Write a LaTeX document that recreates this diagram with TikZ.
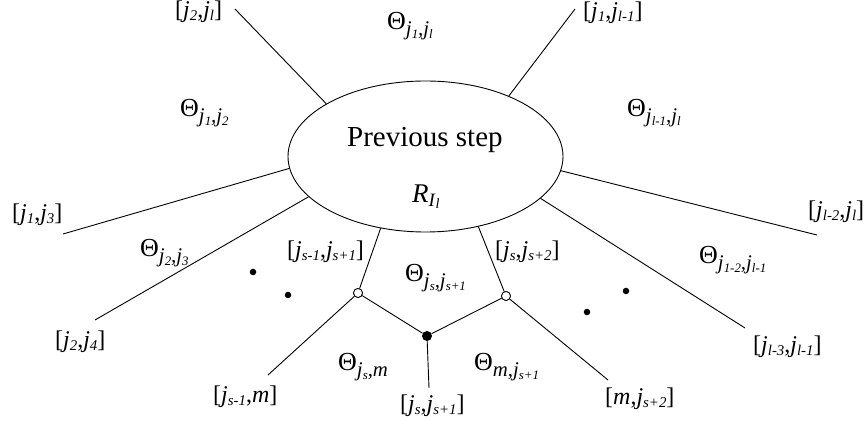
\documentclass[tikz,border=0pt]{standalone}
\usepackage{fontspec}
\usepackage{graphicx}
\setmainfont{Liberation Serif}
\usetikzlibrary{shapes.geometric}
\newcommand\sj[1]{\textit{j}\raisebox{-0.12em}{\scalebox{0.62}{\textit{#1}}}}
\newcommand\Th[1]{Θ\raisebox{-0.22em}{\scalebox{0.8}{\textit{#1}}}}
\tikzset{
  lbl/.style={inner sep=0pt, anchor=west, font=\fontsize{24}{28}\selectfont},
  thl/.style={inner sep=0pt, anchor=base west, font=\fontsize{26}{30}\selectfont},
  edge/.style={line width=0.9pt},
  opendot/.style={circle, draw, fill=white, line width=0.8pt, inner sep=0pt, minimum size=9pt},
  fulldot/.style={circle, fill=black, inner sep=0pt, minimum size=10pt},
  smalldot/.style={circle, fill=black, inner sep=0pt, minimum size=6.5pt}
}
\begin{document}
\begin{tikzpicture}[x=1pt,y=1pt]
\useasboundingbox (0,0) rectangle (868,426);
\node[ellipse, draw, line width=0.9pt, minimum width=275pt, minimum height=151pt, inner sep=0pt] (E) at (425.5,269.5) {};
\node[inner sep=0pt, anchor=base west, font=\fontsize{29}{33}\selectfont] (t1) at (347,279) {Previous step};
\node[inner sep=0pt, anchor=base west, font=\fontsize{27}{31}\selectfont] (t2) at (412,223) {\textit{R}\raisebox{-0.12em}{\scalebox{0.7}{\textit{I}\raisebox{-0.1em}{\scalebox{0.75}{\textit{l}}}}}};
% outer ends
\coordinate (a1) at (235,417);
\coordinate (a2) at (575,417);
\coordinate (a3) at (63,192);
\coordinate (a4) at (95,106);
\coordinate (a5) at (817,191);
\coordinate (a6) at (745,98);
\coordinate (a11) at (429,38);
\coordinate (a12) at (268,51);
\coordinate (a13) at (608,46);
% inner vertices
\node[opendot] (oL) at (358,133) {};
\node[opendot] (oR) at (506,130) {};
\node[fulldot] (fM) at (427,90) {};
% edges
\draw[edge] (E.152.9) -- (a1);
\draw[edge] (E.36.5) -- (a2);
\draw[edge] (E.185.6) -- (a3);
\draw[edge] (E.199.5) -- (a4);
\draw[edge] (E.-6.9) -- (a5);
\draw[edge] (E.-20.5) -- (a6);
\draw[edge] (E.238.5) -- (oL);
\draw[edge] (E.-53.9) -- (oR);
\draw[edge] (oL) -- (fM);
\draw[edge] (oR) -- (fM);
\draw[edge] (fM) -- (a11);
\draw[edge] (oL) -- (a12);
\draw[edge] (oR) -- (a13);
\node[opendot] at (oL) {};
\node[opendot] at (oR) {};
% dots
\node[smalldot] (d1) at (253,154) {};
\node[smalldot] (d2) at (288,131) {};
\node[smalldot] (d3) at (626,135) {};
\node[smalldot] (d4) at (587,114) {};
% Theta labels
\node[thl] (th1) at (180,309) {\Th{\sj{1},\sj{2}}};
\node[thl] (th2) at (627,309) {\Th{\sj{l-1},\sj{l}}};
\node[thl] (th3) at (387,396) {\Th{\sj{1},\sj{l}}};
\node[thl] (th4) at (140,169) {\Th{\sj{2},\sj{3}}};
\node[thl] (th5) at (405,144) {\Th{\sj{s},\sj{s+1}}};
\node[thl] (th6) at (338,55) {\Th{\sj{s},m}};
\node[thl] (th7) at (474,55) {\Th{m,\sj{s+1}}};
\node[thl] (th8) at (699,162) {\Th{\sj{1-2},\sj{l-1}}};
% bracket labels
\node[lbl] (b1) at (175,414) {[\sj{2},\sj{l}]};
\node[lbl] (b2) at (583,413) {[\sj{1},\sj{l-1}]};
\node[lbl] (b3) at (12,211) {[\sj{1},\sj{3}]};
\node[lbl] (b4) at (55,84) {[\sj{2},\sj{4}]};
\node[lbl] (b5) at (287,174) {[\sj{s-1},\sj{s+1}]};
\node[lbl] (b6) at (495,174) {[\sj{s},\sj{s+2}]};
\node[lbl] (b7) at (213,29) {[\sj{s-1},\textit{m}]};
\node[lbl] (b8) at (400,20) {[\sj{s},\sj{s+1}]};
\node[lbl] (b9) at (605,27) {[\textit{m},\sj{s+2}]};
\node[lbl] (b10) at (808,214) {[\sj{l-2},\sj{l}]};
\node[lbl] (b11) at (753,79) {[\sj{l-3},\sj{l-1}]};
\end{tikzpicture}
\end{document}
